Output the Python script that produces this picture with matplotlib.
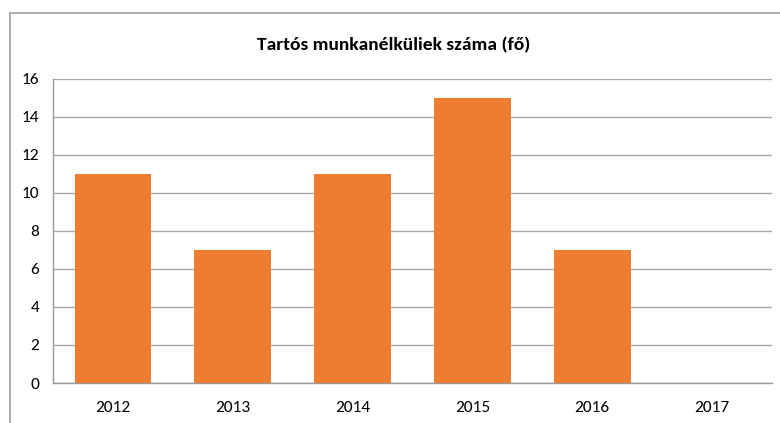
import matplotlib
matplotlib.use("Agg")
import matplotlib.pyplot as plt
from matplotlib.patches import Rectangle

plt.rcParams["font.family"] = ["Carlito", "Liberation Sans", "DejaVu Sans"]

years = ["2012", "2013", "2014", "2015", "2016", "2017"]
counts = [11, 7, 11, 15, 7, 0]
title = "Tartós munkanélküliek száma (fő)"

ORANGE = "#ED7D31"
GRID = "#A6A6A6"

W, H = 780, 423
fig = plt.figure(figsize=(W / 100, H / 100), dpi=100)
fig.patch.set_facecolor("white")

# outer chart frame (runs off the right and bottom edges)
fig.add_artist(Rectangle((10 / W, -0.1), 1.2, 1.1 - 13 / H, transform=fig.transFigure,
                         fill=False, edgecolor="#A0A0A0", linewidth=1.2))

ax = fig.add_axes([53 / W, 1 - 383 / H, (772 - 53) / W, (383 - 79) / H])
x = range(len(years))
ax.bar(x, counts, width=0.64, color=ORANGE, zorder=3)
ax.set_xlim(-0.5, len(years) - 0.5)
ax.set_ylim(0, 16)
ax.set_yticks(range(0, 17, 2))
ax.set_xticks(list(x))
ax.set_xticklabels(years)
ax.yaxis.grid(True, color=GRID, linewidth=1.0, zorder=0)
ax.set_axisbelow(True)
for side in ["top", "right"]:
    ax.spines[side].set_visible(False)
for side in ["left", "bottom"]:
    ax.spines[side].set_color("#999999")
    ax.spines[side].set_linewidth(1.0)
ax.tick_params(length=0, labelsize=12.5, colors="#000000")
ax.tick_params(axis="y", pad=10)
ax.tick_params(axis="x", pad=13)

fig.text(394 / W, 1 - 45 / H, title, ha="center", va="center",
         fontsize=14, fontweight="bold")

fig.savefig("out.png", dpi=100, facecolor="white")
